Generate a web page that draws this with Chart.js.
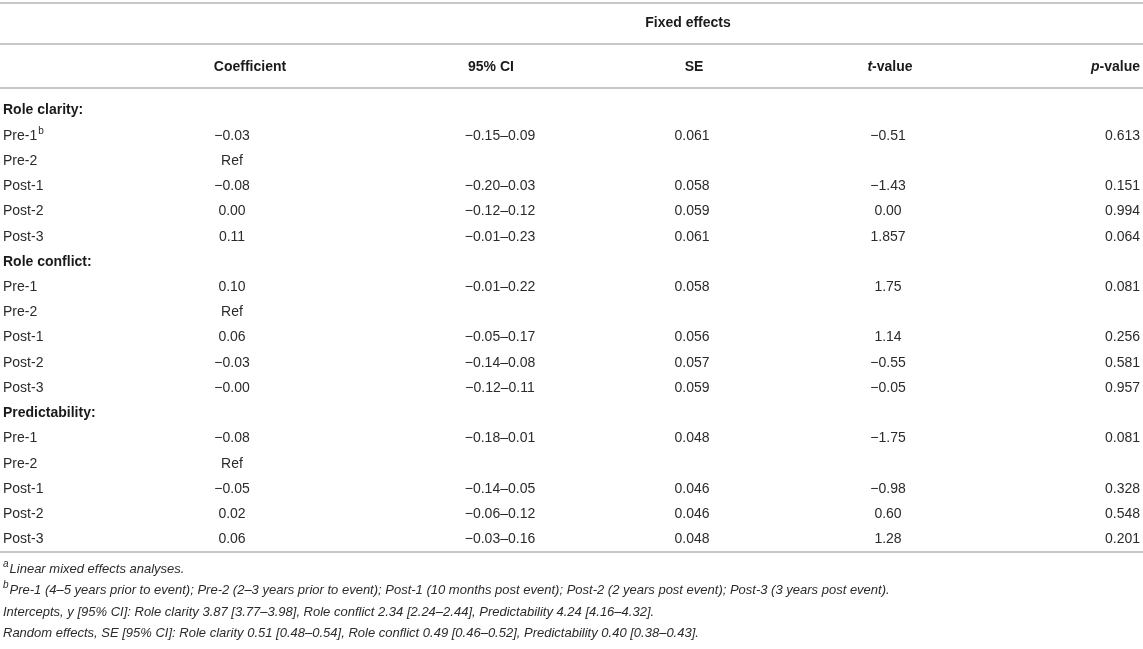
<!DOCTYPE html>
<html><head><meta charset="utf-8">
<script src="https://cdn.jsdelivr.net/npm/chart.js@4.4.1/dist/chart.umd.min.js"></script>
<style>html,body{margin:0;padding:0;background:#fff;overflow:hidden}#wrap{width:1143px;height:649px;position:relative}</style>
</head><body><div id="wrap"><canvas id="c"></canvas></div>
<script>
// ---- data ----
const groups = ['Role clarity:', 'Role conflict:', 'Predictability:'];
const periods = ['Pre-1', 'Pre-2', 'Post-1', 'Post-2', 'Post-3'];
const columns = ['Coefficient', '95% CI', 'SE', 't-value', 'p-value'];
const spanHeader = 'Fixed effects';
// per group, per period (null = reference category)
const coefficient = [-0.03, null, -0.08, 0.00, 0.11,   0.10, null, 0.06, -0.03, -0.00,   -0.08, null, -0.05, 0.02, 0.06];
const ciLow  = [-0.15, null, -0.20, -0.12, -0.01,   -0.01, null, -0.05, -0.14, -0.12,   -0.18, null, -0.14, -0.06, -0.03];
const ciHigh = [0.09, null, 0.03, 0.12, 0.23,   0.22, null, 0.17, 0.08, 0.11,   0.01, null, 0.05, 0.12, 0.16];
const se     = [0.061, null, 0.058, 0.059, 0.061,   0.058, null, 0.056, 0.057, 0.059,   0.048, null, 0.046, 0.046, 0.048];
const tValue = ['-0.51', null, '-1.43', '0.00', '1.857',   '1.75', null, '1.14', '-0.55', '-0.05',   '-1.75', null, '-0.98', '0.60', '1.28'];
const pValue = [0.613, null, 0.151, 0.994, 0.064,   0.081, null, 0.256, 0.581, 0.957,   0.081, null, 0.328, 0.548, 0.201];
const refLabel = 'Ref';
const footnotes = [
  ['a', 'Linear mixed effects analyses.'],
  ['b', 'Pre-1 (4\u20135 years prior to event); Pre-2 (2\u20133 years prior to event); Post-1 (10 months post event); Post-2 (2 years post event); Post-3 (3 years post event).'],
  ['', 'Intercepts, y [95% CI]: Role clarity 3.87 [3.77\u20133.98], Role conflict 2.34 [2.24\u20132.44], Predictability 4.24 [4.16\u20134.32].'],
  ['', 'Random effects, SE [95% CI]: Role clarity 0.51 [0.48\u20130.54], Role conflict 0.49 [0.46\u20130.52], Predictability 0.40 [0.38\u20130.43].']
];

// ---- layout (positions in canvas-width units on the x scale) ----
const W = 1143, H = 649;
const colX      = [3, 232, 500, 692, 888, 1140];   // label col, value cols
const colAlign  = ['left', 'center', 'center', 'center', 'center', 'right'];
const headX     = [null, 250, 491, 694, 890, 1140];
const FONT = '"Liberation Sans", Arial, Helvetica, sans-serif';

// ---- build rows ----
const MINUS = '\u2212';
const fmt = (v, d) => {
  if (v === null || v === undefined) return '';
  if (typeof v === 'string') return v.replace('-', MINUS);
  const neg = v < 0 || Object.is(v, -0);
  return (neg ? MINUS : '') + Math.abs(v).toFixed(d);
};
const rowLabels = [], rowKind = [], rowData = [];
groups.forEach((g, gi) => {
  rowLabels.push(g); rowKind.push('group'); rowData.push(null);
  periods.forEach((p, pi) => {
    rowLabels.push(p); rowKind.push('data'); rowData.push(gi * periods.length + pi);
  });
});
const cellText = (c, k) => {
  if (k === null) return '';
  switch (c) {
    case 0: return coefficient[k] === null ? refLabel : fmt(coefficient[k], 2);
    case 1: return ciLow[k] === null ? '' : fmt(ciLow[k], 2) + '\u2013' + fmt(ciHigh[k], 2);
    case 2: return fmt(se[k], 3);
    case 3: return fmt(tValue[k]);
    case 4: return fmt(pValue[k], 3);
  }
};
const datasets = [];
// label column
datasets.push({
  label: 'labels',
  data: rowLabels.map((l, i) => ({ x: colX[0], y: i })),
  texts: rowLabels,
  sup: rowLabels.map((l, i) => (i === 1 ? 'b' : '')),
  bold: rowKind.map(k => k === 'group'),
  align: colAlign[0]
});
columns.forEach((name, c) => {
  const pts = [], txt = [];
  rowData.forEach((k, i) => {
    const t = cellText(c, k);
    if (t) { pts.push({ x: colX[c + 1], y: i }); txt.push(t); }
  });
  datasets.push({ label: name, data: pts, texts: txt, align: colAlign[c + 1] });
});

// ---- table drawing plugin ----
const tablePlugin = {
  id: 'tableText',
  afterDatasetsDraw(chart) {
    const ctx = chart.ctx, area = chart.chartArea, xs = chart.scales.x;
    ctx.save();
    ctx.textBaseline = 'middle';
    // rules
    ctx.strokeStyle = '#b4b4b4'; ctx.lineWidth = 1.5;
    const rule = y => { ctx.beginPath(); ctx.moveTo(0, y); ctx.lineTo(W, y); ctx.stroke(); };
    rule(3); rule(44); rule(88); rule(area.bottom);
    // span header
    ctx.fillStyle = '#1a1a1a';
    ctx.font = 'bold 14px ' + FONT;
    ctx.textAlign = 'center';
    ctx.fillText(spanHeader, 688, 23);
    // column headers
    columns.forEach((name, c) => {
      const x = xs.getPixelForValue(headX[c + 1]);
      const m = /^([tp])(-value)$/.exec(name);
      ctx.textAlign = 'left';
      if (m) {
        ctx.font = 'italic bold 14px ' + FONT; const w1 = ctx.measureText(m[1]).width;
        ctx.font = 'bold 14px ' + FONT; const w2 = ctx.measureText(m[2]).width;
        const w = w1 + w2;
        const x0 = colAlign[c + 1] === 'right' ? x - w : x - w / 2;
        ctx.font = 'italic bold 14px ' + FONT; ctx.fillText(m[1], x0, 67);
        ctx.font = 'bold 14px ' + FONT; ctx.fillText(m[2], x0 + w1, 67);
      } else {
        ctx.font = 'bold 14px ' + FONT;
        ctx.textAlign = colAlign[c + 1];
        ctx.fillText(name, x, 67);
      }
    });
    // cells
    chart.data.datasets.forEach((ds, di) => {
      const meta = chart.getDatasetMeta(di);
      meta.data.forEach((el, i) => {
        const bold = ds.bold && ds.bold[i];
        ctx.font = (bold ? 'bold ' : '') + '14px ' + FONT;
        ctx.fillStyle = bold ? '#1a1a1a' : '#2b2b2b';
        ctx.textAlign = ds.align;
        ctx.fillText(ds.texts[i], el.x, el.y);
        if (ds.sup && ds.sup[i]) {
          const w = ctx.measureText(ds.texts[i]).width;
          ctx.font = '10px ' + FONT; ctx.textAlign = 'left';
          ctx.fillText(ds.sup[i], el.x + w + 1, el.y - 5);
        }
      });
    });
    // footnotes
    ctx.fillStyle = '#2b2b2b';
    footnotes.forEach((f, i) => {
      const y = area.bottom + 17 + i * 21.5;
      let x = 3;
      ctx.textAlign = 'left';
      if (f[0]) {
        ctx.font = 'italic 10px ' + FONT;
        ctx.fillText(f[0], x, y - 5);
        x += ctx.measureText(f[0]).width + 1;
      }
      ctx.font = 'italic 13px ' + FONT;
      ctx.fillText(f[1], x, y);
    });
    ctx.restore();
  }
};

new Chart(document.getElementById('c'), {
  type: 'scatter',
  data: { datasets },
  options: {
    responsive: true, maintainAspectRatio: false, animation: false,
    layout: { padding: { top: 98, bottom: H - 552, left: 0, right: 0 } },
    plugins: { legend: { display: false }, tooltip: { enabled: false } },
    elements: { point: { radius: 0, hoverRadius: 0 } },
    scales: {
      x: { type: 'linear', min: 0, max: W, display: false },
      y: { type: 'linear', min: -0.5, max: rowLabels.length - 0.5, reverse: true, display: false }
    }
  },
  plugins: [tablePlugin]
});
</script></body></html>
